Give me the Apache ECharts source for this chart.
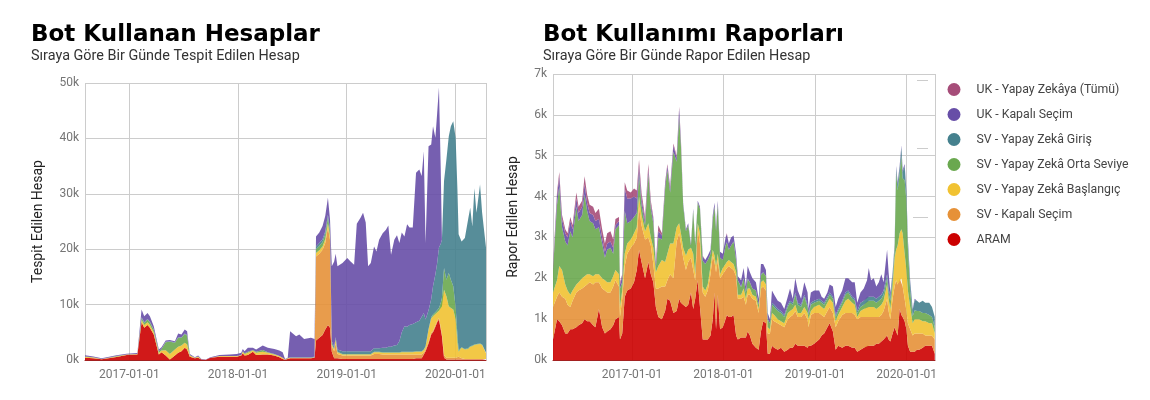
<!DOCTYPE html>
<html>
<head>
<meta charset="utf-8">
<script src="https://cdn.jsdelivr.net/npm/echarts@6/dist/echarts.min.js"></script>
<style>html,body{margin:0;padding:0;background:#fff}#c{width:1150px;height:400px}</style>
</head>
<body>
<div id="c"></div>
<script>
// ---------- Left chart: Bot Kullanan Hesaplar (values in thousands) ----------
const leftDates = ['2016-08-05','2016-09-02','2016-09-30','2016-10-17','2016-11-19','2016-12-23','2017-01-28','2017-02-11','2017-02-20','2017-03-03','2017-03-11','2017-03-24','2017-04-10','2017-04-19','2017-05-03','2017-05-17','2017-06-03','2017-06-14','2017-06-25','2017-07-06','2017-07-14','2017-07-23','2017-08-09','2017-08-20','2017-08-31','2017-09-15','2017-09-30','2017-10-31','2017-12-04','2017-12-28','2018-01-12','2018-01-17','2018-01-23','2018-02-03','2018-02-20','2018-03-03','2018-03-25','2018-04-11','2018-05-03','2018-05-20','2018-05-31','2018-06-08','2018-06-17','2018-06-25','2018-07-04','2018-07-15','2018-07-26','2018-08-11','2018-09-03','2018-09-15','2018-09-20','2018-10-01','2018-10-12','2018-10-21','2018-10-30','2018-11-06','2018-11-12','2018-11-20','2018-11-25','2018-12-01','2018-12-18','2019-01-03','2019-01-14','2019-01-26','2019-02-04','2019-02-17','2019-02-25','2019-03-06','2019-03-14','2019-03-23','2019-04-03','2019-04-11','2019-04-20','2019-05-02','2019-05-13','2019-05-21','2019-05-30','2019-06-10','2019-06-19','2019-06-27','2019-07-05','2019-07-14','2019-07-23','2019-07-31','2019-08-11','2019-08-22','2019-09-02','2019-09-10','2019-09-17','2019-09-23','2019-10-03','2019-10-12','2019-10-18','2019-10-26','2019-11-01','2019-11-07','2019-11-13','2019-11-17','2019-11-24','2019-12-02','2019-12-10','2019-12-17','2019-12-25','2020-01-02','2020-01-08','2020-01-12','2020-01-22','2020-02-02','2020-02-13','2020-02-20','2020-02-27','2020-03-05','2020-03-12','2020-03-24','2020-03-31','2020-04-13'];
const leftAram = [0.4,0.3,0.15,0.25,0.55,0.9,1.0,6.8,5.8,6.3,5.8,4.6,1.0,1.4,0.8,0.1,0.8,1.3,1.6,2.2,1.9,0.6,0.3,0.4,0.1,0.05,0.4,0.6,0.6,0.6,0.8,1.2,0.8,0.9,1.5,0.9,1.0,1.0,0.8,0.5,0.2,0.05,0.2,0.3,0.3,0.3,0.3,0.3,0.3,0.4,3.5,4.0,4.5,5.5,6.3,5.8,1.5,0.3,0.5,0.3,0.2,0.2,0.2,0.2,0.2,0.2,0.2,0.2,0.2,0.2,0.2,0.2,0.2,0.2,0.2,0.2,0.2,0.2,0.2,0.2,0.2,0.2,0.2,0.2,0.2,0.3,0.3,0.3,1.0,1.6,3.0,4.6,5.0,6.0,6.8,7.3,5.5,4.3,0.4,0.1,0.1,0.1,0.1,0.1,0.1,0.1,0.1,0.1,0.1,0.1,0.1,0.1,0.1,0.1,0.1,0.1];
const leftSvKapali = [0,0,0,0,0,0,0,0,0,0,0,0,0,0,0,0,0,0,0,0,0,0,0,0,0,0,0,0,0,0,0,0,0,0,0,0,0,0,0,0,0,0,0,0,0,0,0,0,0,0,15.2,15.2,15.4,15.6,17.6,15.9,1.0,1.3,2.5,0.8,0.6,0.6,0.6,0.6,0.6,0.6,0.6,0.6,0.6,0.6,0.9,0.9,0.9,0.8,0.8,0.8,0.8,0.8,0.8,0.8,0.8,0.8,0.8,0.8,0.8,0.7,0.7,0.7,0.3,0.3,0.3,0.3,0.3,0.3,0.3,0.3,0.4,0.4,0.5,0.3,0.3,0.3,0.3,0.3,0.3,0.5,0.2,0.1,0.1,0.1,0.1,0.1,0.1,0.1,0.1,0.1];
const leftSvBaslangic = [0.2,0.15,0.05,0.1,0.1,0.1,0.1,0.4,0.5,0.5,0.5,0.4,0.3,0.3,0.95,1.0,1.1,1.1,1.0,0.9,0.9,0.2,0.1,0.2,0,0,0,0.1,0.1,0.1,0.1,0.3,0.3,0.4,0.2,0.4,0.5,0.3,0.2,0.2,0.2,0.05,0.1,0.1,0.1,0.1,0.1,0.1,0.1,0.1,0.6,0.6,0.6,0.7,0.8,0.7,0.3,0.3,0.7,0.3,0.2,0.2,0.2,0.2,0.2,0.2,0.2,0.2,0.2,0.2,0.3,0.3,0.3,0.3,0.3,0.3,0.3,0.3,0.3,0.3,0.4,0.4,0.4,0.4,0.4,0.5,0.5,0.5,0.5,0.5,2.2,2.6,2.6,2.0,1.5,1.3,3.6,5.0,11.8,11.1,9.3,9.0,8.7,6.9,2.7,0.9,1.9,1.7,1.8,2.2,2.3,2.5,2.6,2.7,2.5,1.0];
const leftSvOrta = [0.05,0.05,0,0,0.05,0,0,0.4,0.4,0.5,0.5,0.4,0.3,0.3,1.45,2.2,1.2,1.6,1.4,1.6,1.6,0.1,0,0.05,0,0,0,0,0,0,0,0.1,0.1,0.2,0.1,0.2,0.3,0.1,0.1,0,0,0,0,0,0,0,0,0,0,0,0.7,0.8,0.8,0.9,1.0,0.8,0.2,0.1,0.1,0.1,0.1,0.1,0.1,0.1,0.1,0.1,0.1,0.1,0.1,0.1,0.1,0.1,0.1,0.1,0.1,0.1,0.1,0.1,0.1,0.1,0.1,0.1,0.1,0.1,0.1,0.1,0.1,0.1,0.1,0.1,0.1,0.2,0.3,0.3,0.4,0.5,0.8,1.5,3.9,3.0,6.0,5.1,4.2,2.2,1.4,0.3,0.1,0.1,0.1,0.1,0.1,0.1,0.1,0.1,0.1,0.1];
const leftSvGiris = [0,0,0,0,0,0,0,0.1,0.1,0.1,0.1,0.1,0,0,0.1,0.1,0.1,0.1,0.1,0.1,0.1,0,0,0,0,0,0,0,0,0,0,0,0,0,0,0,0,0,0,0,0,0,0,0.1,0.1,0.1,0.1,0.1,0.1,0.1,0.5,0.5,0.5,0.5,0.5,0.4,0.4,0.4,0.3,0.4,0.5,0.5,0.5,0.5,0.5,0.5,0.5,0.5,0.5,0.5,0.6,0.6,0.6,0.8,0.8,1.0,1.0,1.2,1.3,2.0,3.5,4.6,4.5,4.8,5.0,5.2,5.5,6.2,6.6,4.8,3.4,3.3,5.1,6.9,8.5,10.9,10.7,10.5,15.7,21.7,24.7,27.7,29.8,30.6,26.3,20.9,19.1,20.0,23.3,25.0,21.5,28.2,23.7,28.7,23.8,19.0];
const leftUkKapali = [0.2,0.15,0.1,0.15,0.15,0.15,0.16,1.4,1.1,1.1,1.0,0.6,0.3,0.3,0.2,0.2,0.2,0.7,0.5,0.7,0.7,0.2,0.1,0.15,0.1,0.05,0.1,0.2,0.3,0.4,0.4,0.4,0.4,0.7,0.4,0.4,0.8,0.8,0.9,1.0,1.0,0.1,0.1,4.7,4.3,3.8,4.1,3.3,3.5,3.2,1.8,1.9,2.4,2.8,3.1,1.8,13.5,15.4,15.1,15.0,15.9,16.8,16.2,15.6,23.0,24.1,25.0,23.2,15.3,15.9,18.4,17.5,19.6,20.7,21.3,21.9,16.6,19.1,19.8,17.7,18.0,16.2,18.5,17.6,17.4,27.0,27.3,25.4,29.2,13.8,29.6,27.9,28.9,24.6,27.1,28.9,13.4,0,0,0,0,0,0,0,0,0,0,0,0,0,0,0,0,0,0,0];

// ---------- Right chart: Bot Kullanımı Raporları (values in thousands) ----------
const rightDates = ['2016-02-21','2016-03-08','2016-03-17','2016-03-28','2016-04-10','2016-04-19','2016-04-30','2016-05-09','2016-05-24','2016-06-02','2016-06-16','2016-06-26','2016-07-06','2016-07-16','2016-07-30','2016-08-08','2016-08-22','2016-09-04','2016-09-15','2016-09-24','2016-10-07','2016-10-18','2016-10-27','2016-11-10','2016-11-14','2016-11-23','2016-12-03','2016-12-13','2016-12-27','2017-01-09','2017-01-20','2017-01-29','2017-02-08','2017-02-22','2017-03-07','2017-03-17','2017-03-27','2017-04-06','2017-04-16','2017-04-30','2017-05-13','2017-05-22','2017-06-02','2017-06-15','2017-06-28','2017-07-08','2017-07-15','2017-07-24','2017-08-04','2017-08-13','2017-08-24','2017-09-02','2017-09-10','2017-09-20','2017-09-29','2017-10-10','2017-10-20','2017-10-30','2017-11-10','2017-11-19','2017-11-26','2017-12-02','2017-12-09','2017-12-18','2017-12-29','2018-01-09','2018-01-14','2018-01-22','2018-01-31','2018-02-10','2018-02-20','2018-02-27','2018-03-12','2018-03-22','2018-03-31','2018-04-07','2018-04-16','2018-04-26','2018-05-10','2018-05-21','2018-05-30','2018-06-08','2018-06-19','2018-06-26','2018-07-05','2018-07-13','2018-07-22','2018-08-05','2018-08-18','2018-08-31','2018-09-14','2018-09-23','2018-10-04','2018-10-14','2018-10-24','2018-11-06','2018-11-19','2018-12-02','2018-12-06','2018-12-15','2018-12-28','2019-01-17','2019-01-27','2019-02-06','2019-02-19','2019-02-28','2019-03-13','2019-03-24','2019-04-03','2019-04-19','2019-05-02','2019-05-13','2019-05-29','2019-06-08','2019-06-18','2019-07-01','2019-07-14','2019-07-27','2019-08-03','2019-08-12','2019-08-23','2019-09-02','2019-09-12','2019-09-22','2019-10-01','2019-10-15','2019-10-21','2019-10-28','2019-11-06','2019-11-14','2019-11-20','2019-11-26','2019-12-04','2019-12-11','2019-12-16','2019-12-24','2019-12-31','2020-01-06','2020-01-15','2020-01-25','2020-02-02','2020-02-11','2020-02-20','2020-03-05','2020-03-15','2020-03-31','2020-04-11','2020-04-22'];
const rightAram = [0.5,1.0,0.95,0.85,0.65,0.65,0.75,0.75,0.8,0.85,0.9,1.0,0.95,0.95,0.85,0.8,1.25,0.8,0.65,0.7,0.75,0.85,1.0,1.05,0.5,0.65,1.55,1.7,1.75,1.9,2.2,2.7,2.4,2.0,2.4,2.1,1.9,1.3,1.05,1.0,1.2,1.5,1.45,1.15,1.2,1.5,1.4,1.35,1.3,1.35,1.65,1.25,1.5,1.95,1.3,0.5,0.5,0.5,0.6,1.0,1.65,0.75,1.6,0.75,0.8,1.0,1.1,1.05,1.05,1.1,0.6,0.5,0.55,0.55,0.55,0.7,0.6,0.4,0.3,0.25,0.7,0.95,0.9,0.15,0.15,0.35,0.3,0.25,0.3,0.2,0.25,0.3,0.3,0.4,0.35,0.35,0.35,0.3,0.35,0.35,0.4,0.5,0.6,0.65,0.8,0.9,0.7,0.25,0.35,0.3,0.35,0.35,0.3,0.3,0.2,0.25,0.3,0.35,0.35,0.35,0.35,0.4,0.4,0.45,0.5,0.6,0.5,0.45,0.65,0.8,0.7,0.6,1.25,1.1,1.05,0.95,0.75,0.35,0.2,0.2,0.2,0.25,0.25,0.3,0.35,0.35,0.35,0.15];
const rightSvKapali = [0.8,0.55,0.7,0.7,0.85,0.7,0.55,0.7,0.85,0.85,0.85,0.8,0.9,0.95,1.0,1.1,0.65,0.95,1.05,0.95,0.9,0.95,0.95,0.75,0.55,0.85,0.75,0.9,1.0,0.95,0.8,1.05,0.9,0.95,0.6,0.7,0.45,0.45,0.7,0.8,0.6,0.45,0.65,0.85,1.7,1.6,1.45,1.15,0.9,1.05,0.85,0.95,0.45,1.25,1.55,1.15,1.05,1.2,1.5,1.55,0.75,1.4,0.85,1.25,1.3,1.2,1.15,1.25,1.2,1.1,1.45,1.0,0.95,1.0,0.8,0.9,1.0,1.1,1.15,0.9,1.05,0.85,0.8,0.5,0.5,0.65,0.65,0.65,0.55,0.6,0.75,0.75,0.8,0.8,0.7,0.7,0.8,0.7,0.45,0.75,0.75,0.65,0.5,0.4,0.4,0.4,0.45,0.55,0.6,0.8,0.8,0.8,0.85,0.8,0.8,0.8,0.75,0.7,0.7,0.7,0.7,0.65,0.65,0.65,0.7,0.9,0.7,0.55,0.85,1.0,1.25,1.25,0.75,0.9,0.75,0.55,0.45,0.55,0.55,0.4,0.45,0.4,0.4,0.35,0.25,0.25,0.25,0.35];
const rightSvBaslangic = [0.35,0.4,0.65,0.65,0.35,0.35,0.3,0.25,0.2,0.2,0.25,0.25,0.25,0.2,0.2,0.2,0.2,0.25,0.25,0.25,0.25,0.25,0.25,0.3,0.25,0.2,0.3,0.25,0.2,0.25,0.25,0.25,0.25,0.2,0.35,0.2,0.4,0.4,0.55,0.65,0.6,0.65,0.75,0.85,0.35,0.25,0.25,0.25,0.35,0.3,0.25,0.4,0.15,0.15,0.25,0.15,0.15,0.15,0.2,0.15,0.15,0.15,0.15,0.1,0.15,0.15,0.15,0.15,0.15,0.15,0.1,0.1,0.1,0.2,0.15,0.15,0.15,0.1,0.1,0.1,0.15,0.15,0.15,0.15,0.1,0.15,0.15,0.1,0.1,0.1,0.15,0.15,0.15,0.15,0.1,0.1,0.15,0.15,0.2,0.1,0.15,0.2,0.2,0.2,0.2,0.2,0.25,0.15,0.15,0.2,0.3,0.35,0.25,0.25,0.05,0.15,0.2,0.25,0.25,0.25,0.25,0.2,0.25,0.25,0.25,0.35,0.3,0.25,0.3,0.7,0.75,0.95,1.1,1.2,1.3,1.1,1.0,0.8,0.55,0.3,0.35,0.35,0.35,0.3,0.35,0.3,0.3,0.15];
const rightSvOrta = [0.55,1.85,1.95,1.05,1.05,1.1,1.55,1.3,1.9,1.5,1.55,2.0,1.55,1.3,1.3,1.1,1.15,0.85,0.55,0.8,0.85,0.55,1.0,1.2,0.45,0.2,1.05,0.5,0.45,0.4,0.35,0.55,0.25,0.15,1.2,0.7,0.6,0.1,0.7,0.5,1.8,2.05,1.25,2.25,1.6,2.6,2.15,1.03,0.6,0.6,0.05,1.05,0.7,0.5,0.6,0.63,0.65,0.6,0.3,0.75,1.2,0.85,1.2,0.4,0.2,0.45,0.48,0.25,0.4,0.55,0.3,0.35,0.18,0.25,0.15,0.22,0.15,0.15,0.15,0.1,0.17,0.2,0.2,0.2,0.15,0.2,0.2,0.2,0.2,0.15,0.15,0.2,0.1,0.25,0.2,0.15,0.25,0.15,0.1,0.15,0.1,0.1,0.1,0.1,0.1,0.1,0.1,0.1,0.1,0.1,0.15,0.15,0.1,0.1,0.1,0.1,0.1,0.15,0.15,0.15,0.15,0.15,0.15,0.15,0.15,0.15,0.15,0.2,0.2,0.2,1.9,1.35,1.45,1.8,1.35,1.8,1.7,1.05,0.4,0.17,0.22,0.2,0.2,0.2,0.2,0.2,0.15,0.15];
const rightSvGiris = [0,0,0,0,0,0,0,0,0,0,0,0,0,0,0,0,0,0,0,0,0,0,0,0,0,0,0,0,0,0,0,0,0,0,0,0,0,0,0,0,0,0,0,0,0,0,0,0.02,0,0,0,0,0,0,0,0,0,0,0,0,0,0,0,0,0,0,0,0,0,0,0,0,0.02,0,0,0.03,0,0,0,0,0.03,0,0,0,0,0.05,0.05,0.05,0.05,0.05,0.05,0.05,0.05,0.05,0.05,0.05,0.05,0.05,0.05,0.05,0.05,0.05,0.05,0.05,0.05,0.05,0.05,0.05,0.05,0.05,0.05,0.05,0.05,0.05,0.05,0.1,0.1,0.1,0.1,0.1,0.1,0.1,0.1,0.1,0.1,0.1,0.1,0.1,0.1,0.1,0.1,0.15,0.15,0.2,0.15,0.35,0.2,0.15,0.2,0.15,0.25,0.25,0.2,0.3,0.25,0.3,0.25,0.25];
const rightUkKapali = [0.05,0.2,0.25,0.2,0.2,0.2,0.25,0.2,0.2,0.2,0.2,0.25,0.2,0.2,0.2,0.2,0.2,0.15,0.15,0.15,0.15,0.15,0.1,0.1,0.1,0.15,0.55,0.6,0.55,0.5,0.35,0.2,0.15,0.1,0.1,0.1,0.1,0.1,0.15,0.1,0.1,0.1,0.1,0.15,0.1,0.2,0.1,0.05,0.05,0.05,0.05,0.05,0.05,0.05,0.05,0.1,0.1,0.1,0.1,0.1,0.1,0.1,0.1,0.15,0.15,0.2,0.2,0.15,0.2,0.15,0.15,0.1,0.15,0.25,0.15,0.3,0.25,0.25,0.2,0.15,0.25,0.2,0.15,0.15,0.1,0.3,0.25,0.2,0.2,0.15,0.2,0.3,0.1,0.35,0.3,0.15,0.3,0.3,0.1,0.25,0.25,0.2,0.1,0.1,0.1,0.2,0.25,0.2,0.25,0.25,0.35,0.3,0.35,0.4,0.2,0.25,0.3,0.4,0.7,0.4,0.45,0.3,0.35,0.5,0.2,0.6,0.4,0.1,0.05,0.05,0.05,0.05,0.05,0.05,0.05,0.05,0.05,0.05,0.05,0.03,0.03,0,0,0,0,0,0,0];
const rightUkYapay = [0.05,0.1,0.1,0.1,0.1,0.1,0.1,0.1,0.15,0.15,0.15,0.2,0.2,0.2,0.2,0.2,0.25,0.2,0.2,0.25,0.25,0.2,0.15,0.1,0.05,0.05,0.15,0.2,0.15,0.2,0.2,0.15,0.15,0.1,0.15,0.1,0.05,0.05,0.15,0.05,0.05,0.05,0.05,0.05,0.05,0.05,0.05,0,0,0,0,0,0,0,0,0.02,0,0,0,0,0,0,0,0,0,0,0.02,0,0,0,0,0,0,0,0,0,0,0,0,0,0,0,0,0,0,0,0,0,0,0,0,0,0,0,0,0,0,0,0,0,0,0,0,0,0,0,0,0,0,0,0,0,0,0,0,0,0,0,0,0,0,0,0,0,0,0,0,0,0,0,0,0,0,0,0,0,0,0,0,0,0,0,0,0,0,0,0,0,0,0];

const yTickLeft = {max: 50, step: 10};
const yTickRight = {max: 7, step: 1};

const NAMES = {
  aram: 'ARAM',
  svKapali: 'SV - Kapalı Seçim',
  svBas: 'SV - Yapay Zekâ Başlangıç',
  svOrta: 'SV - Yapay Zekâ Orta Seviye',
  svGiris: 'SV - Yapay Zekâ Giriş',
  ukKapali: 'UK - Kapalı Seçim',
  ukYapay: 'UK - Yapay Zekâya (Tümü)'
};
const COLORS = {
  aram: '#cc0000', svKapali: '#e69138', svBas: '#f1c232', svOrta: '#6aa84f',
  svGiris: '#45818e', ukKapali: '#674ea7', ukYapay: '#a64d79'
};

function mk(key, dates, vals, idx) {
  return {
    name: NAMES[key], type: 'line', stack: 'total' + idx,
    xAxisIndex: idx, yAxisIndex: idx,
    symbol: 'none', showSymbol: false, smooth: false,
    lineStyle: {width: 0},
    itemStyle: {color: COLORS[key]},
    areaStyle: {color: COLORS[key], opacity: 0.9},
    emphasis: {disabled: true},
    data: dates.map((d, i) => [d, vals[i]])
  };
}

const series = [
  mk('aram', leftDates, leftAram, 0),
  mk('svKapali', leftDates, leftSvKapali, 0),
  mk('svBas', leftDates, leftSvBaslangic, 0),
  mk('svOrta', leftDates, leftSvOrta, 0),
  mk('svGiris', leftDates, leftSvGiris, 0),
  mk('ukKapali', leftDates, leftUkKapali, 0),
  mk('aram', rightDates, rightAram, 1),
  mk('svKapali', rightDates, rightSvKapali, 1),
  mk('svBas', rightDates, rightSvBaslangic, 1),
  mk('svOrta', rightDates, rightSvOrta, 1),
  mk('svGiris', rightDates, rightSvGiris, 1),
  mk('ukKapali', rightDates, rightUkKapali, 1),
  mk('ukYapay', rightDates, rightUkYapay, 1)
];

const YEAR = 365 * 24 * 3600 * 1000;
function xAxis(idx, min, max) {
  return {
    type: 'time', gridIndex: idx, min: min, max: max,
    minInterval: YEAR, maxInterval: YEAR * 1.01, splitNumber: 4,
    axisTick: {show: false},
    axisLine: {show: true, lineStyle: {color: '#a32020', width: 1}},
    axisLabel: {formatter: '{yyyy}-{MM}-{dd}', color: '#757575', fontSize: 12, fontFamily: 'Roboto', margin: 9, showMinLabel: false, showMaxLabel: false},
    splitLine: {show: true, lineStyle: {color: '#cccccc', width: 1}}
  };
}
function yAxis(idx, t, name, gap) {
  return {
    type: 'value', gridIndex: idx, min: 0, max: t.max, interval: t.step,
    axisLine: {show: false}, axisTick: {show: false},
    axisLabel: {formatter: '{value}k', color: '#757575', fontSize: 12, fontFamily: 'Roboto', margin: 6},
    splitLine: {lineStyle: {color: '#cccccc', width: 1}},
    name: name, nameLocation: 'middle', nameGap: gap,
    nameTextStyle: {color: '#222', fontSize: 14, fontFamily: 'Roboto'}
  };
}

const chart = echarts.init(document.getElementById('c'), null, {renderer: 'canvas'});
chart.setOption({
  animation: false,
  backgroundColor: '#fff',
  title: [
    {text: 'Bot Kullanan Hesaplar', subtext: 'Sıraya Göre Bir Günde Tespit Edilen Hesap', left: 26, top: 19, itemGap: 2,
     textStyle: {fontFamily: 'DejaVu Sans', fontWeight: 'bold', fontSize: 23, color: '#000'},
     subtextStyle: {fontFamily: 'Roboto', fontSize: 14.4, color: '#333'}},
    {text: 'Bot Kullanımı Raporları', subtext: 'Sıraya Göre Bir Günde Rapor Edilen Hesap', left: 538, top: 19, itemGap: 2,
     textStyle: {fontFamily: 'DejaVu Sans', fontWeight: 'bold', fontSize: 23, color: '#000'},
     subtextStyle: {fontFamily: 'Roboto', fontSize: 14.4, color: '#333'}}
  ],
  legend: {
    orient: 'vertical', left: 942.5, top: 78, icon: 'circle', itemWidth: 13, itemHeight: 13, itemGap: 12,
    selectedMode: false,
    textStyle: {fontFamily: 'Roboto', fontSize: 12.3, color: '#444', padding: [0, 0, 0, 11]},
    data: [NAMES.ukYapay, NAMES.ukKapali, NAMES.svGiris, NAMES.svOrta, NAMES.svBas, NAMES.svKapali, NAMES.aram]
  },
  grid: [
    {left: 85, width: 401, top: 83, height: 277},
    {left: 553, width: 382, top: 74, height: 286}
  ],
  xAxis: [xAxis(0, '2016-08-05', '2020-04-13'), xAxis(1, '2016-02-21', '2020-04-23')],
  yAxis: [yAxis(0, yTickLeft, 'Tespit Edilen Hesap', 40), yAxis(1, yTickRight, 'Rapor Edilen Hesap', 32.5)],
  series: series,
  graphic: [
    {type: 'line', shape: {x1: 917, y1: 80.5, x2: 928, y2: 80.5}, style: {stroke: '#cccccc', lineWidth: 1}},
    {type: 'line', shape: {x1: 917, y1: 148.5, x2: 928, y2: 148.5}, style: {stroke: '#cccccc', lineWidth: 1}},
    {type: 'line', shape: {x1: 913, y1: 217.5, x2: 928, y2: 217.5}, style: {stroke: '#cccccc', lineWidth: 1}}
  ]
});
</script>
</body>
</html>
